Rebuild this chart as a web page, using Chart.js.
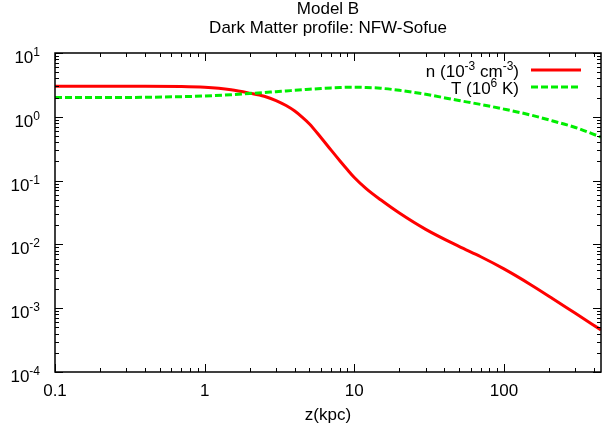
<!DOCTYPE html>
<html>
<head>
<meta charset="utf-8">
<script src="https://cdn.jsdelivr.net/npm/chart.js@4.4.0/dist/chart.umd.min.js"></script>
<style>
  html, body { margin: 0; padding: 0; background: #fff; }
  #wrap { width: 603px; height: 434px; }
</style>
</head>
<body>
<div id="wrap"><canvas id="chart"></canvas></div>
<script>
// z in kpc
const zValues = [0.1, 0.2, 0.4, 0.7, 1, 1.5, 2, 2.5, 3, 3.5, 4, 4.5, 5, 6, 7, 8, 9, 10, 12, 15, 20, 30, 50, 70, 100, 150, 212, 300, 445];
// n in 10^-3 cm^-3
const densityValues = [3.0, 3.0, 3.0, 2.98, 2.9, 2.65, 2.35, 2.1, 1.8, 1.5, 1.23, 0.98, 0.78, 0.47, 0.3, 0.205, 0.148, 0.112, 0.075, 0.05, 0.031, 0.0172, 0.0093, 0.0064, 0.00413, 0.00236, 0.00141, 0.00083, 0.000457];
// T in 10^6 K
const temperatureValues = [2.0, 2.0, 2.02, 2.07, 2.12, 2.22, 2.32, 2.4, 2.48, 2.54, 2.6, 2.65, 2.7, 2.78, 2.84, 2.88, 2.9, 2.9, 2.88, 2.8, 2.6, 2.25, 1.8, 1.56, 1.32, 1.07, 0.86, 0.68, 0.48];

const xTickLabels = [0.1, 1, 10, 100];
const yExponents = [1, 0, -1, -2, -3, -4];
const titleLines = ["Model B", "Dark Matter profile: NFW-Sofue"];
const xAxisTitle = "z(kpc)";
// legend text pieces: [text, isSuperscript]
const densityLabel = [["n (10", false], ["-3", true], [" cm", false], ["-3", true], [")", false]];
const temperatureLabel = [["T (10", false], ["6", true], [" K)", false]];

const FONT = "'Liberation Sans', Arial, sans-serif";
Chart.defaults.font.family = FONT;
Chart.defaults.color = "#000";

function logTicks(min, max) {
  const ticks = [];
  for (let e = Math.floor(Math.log10(min)); e <= Math.ceil(Math.log10(max)); e++) {
    for (let m = 1; m < 10; m++) {
      const v = m * Math.pow(10, e);
      if (v >= min * 0.999 && v <= max * 1.001) ticks.push({ value: v, major: m === 1 });
    }
  }
  return ticks;
}

function drawPieces(ctx, pieces, right, baseY) {
  const big = "17px " + FONT;
  const small = "12px " + FONT;
  let total = 0;
  pieces.forEach(([t, sup]) => {
    ctx.font = sup ? small : big;
    total += ctx.measureText(t).width;
  });
  let x = right - total;
  ctx.textAlign = "left";
  ctx.textBaseline = "alphabetic";
  pieces.forEach(([t, sup]) => {
    ctx.font = sup ? small : big;
    ctx.fillText(t, x, sup ? baseY - 7 : baseY);
    x += ctx.measureText(t).width;
  });
}

const decorations = {
  id: "decorations",
  afterDatasetsDraw(chart) {
    const { ctx, chartArea: a, scales: { x, y } } = chart;
    ctx.save();
    ctx.strokeStyle = "#000";
    ctx.lineWidth = 1;
    ctx.setLineDash([]);
    ctx.beginPath();
    x.ticks.forEach(t => {
      const px = Math.round(x.getPixelForValue(t.value)) + 0.5;
      const len = t.major ? 8 : 4;
      ctx.moveTo(px, a.bottom); ctx.lineTo(px, a.bottom - len);
      ctx.moveTo(px, a.top); ctx.lineTo(px, a.top + len);
    });
    y.ticks.forEach(t => {
      const py = Math.round(y.getPixelForValue(t.value)) + 0.5;
      const len = t.major ? 8 : 4;
      ctx.moveTo(a.left, py); ctx.lineTo(a.left + len, py);
      ctx.moveTo(a.right, py); ctx.lineTo(a.right - len, py);
    });
    ctx.stroke();

    ctx.lineWidth = 1.5;
    ctx.strokeRect(a.left, a.top, a.right - a.left, a.bottom - a.top);

    // y tick labels 10^k
    ctx.fillStyle = "#000";
    yExponents.forEach(e => {
      const py = y.getPixelForValue(Math.pow(10, e));
      const expText = String(e);
      ctx.font = "12px " + FONT;
      const expW = ctx.measureText(expText).width;
      const end = a.left - 15;
      ctx.textAlign = "left";
      ctx.textBaseline = "alphabetic";
      ctx.fillText(expText, end - expW, py + 3);
      ctx.font = "17px " + FONT;
      ctx.textAlign = "right";
      ctx.fillText("10", end - expW, py + 10);
    });

    // legend
    const rows = [
      { pieces: densityLabel, ds: chart.data.datasets[0], y: a.top + 17 },
      { pieces: temperatureLabel, ds: chart.data.datasets[1], y: a.top + 34 }
    ];
    rows.forEach(r => {
      drawPieces(ctx, r.pieces, a.right - 82, r.y + 7);
      ctx.beginPath();
      ctx.strokeStyle = r.ds.borderColor;
      ctx.lineWidth = r.ds.borderWidth;
      ctx.setLineDash(r.ds.borderDash || []);
      ctx.moveTo(a.right - 70, r.y);
      ctx.lineTo(a.right - 20, r.y);
      ctx.stroke();
    });
    ctx.restore();
  }
};

new Chart(document.getElementById("chart"), {
  type: "line",
  data: {
    datasets: [
      {
        label: "n",
        data: zValues.map((z, i) => ({ x: z, y: densityValues[i] })),
        borderColor: "#ff0000",
        borderWidth: 3,
        pointRadius: 0,
        cubicInterpolationMode: "monotone",
        order: 1,
      },
      {
        label: "T",
        data: zValues.map((z, i) => ({ x: z, y: temperatureValues[i] })),
        borderColor: "#00ee00",
        borderWidth: 3,
        borderDash: [7, 3],
        pointRadius: 0,
        cubicInterpolationMode: "monotone",
        order: 0,
      },
    ],
  },
  options: {
    responsive: true,
    maintainAspectRatio: false,
    animation: false,
    layout: { padding: { left: 0, right: 2, top: 0, bottom: 0 } },
    plugins: {
      legend: { display: false },
      tooltip: { enabled: false },
      title: {
        display: true,
        fullSize: false,
        text: titleLines,
        color: "#000",
        font: { size: 17, weight: "normal", lineHeight: 1.1 },
        padding: { top: 0, bottom: 15.6 },
      },
    },
    scales: {
      x: {
        type: "logarithmic",
        min: 0.1,
        max: 445,
        afterBuildTicks: s => { s.ticks = logTicks(0.1, 445); },
        afterFit: s => { s.height = 62; },
        grid: { display: false, drawTicks: false },
        border: { display: false },
        ticks: {
          autoSkip: false,
          maxRotation: 0,
          padding: 8.8,
          color: "#000",
          font: { size: 17 },
          callback: v => (xTickLabels.includes(v) ? String(v) : ""),
        },
        title: {
          display: true,
          text: xAxisTitle,
          color: "#000",
          font: { size: 17 },
          padding: { top: 0, bottom: 8.8 },
        },
      },
      y: {
        type: "logarithmic",
        min: 1e-4,
        max: 10,
        afterBuildTicks: s => { s.ticks = logTicks(1e-4, 10); },
        afterFit: s => { s.width = 55; },
        grid: { display: false, drawTicks: false },
        border: { display: false },
        ticks: { display: false },
      },
    },
  },
  plugins: [decorations],
});
</script>
</body>
</html>
